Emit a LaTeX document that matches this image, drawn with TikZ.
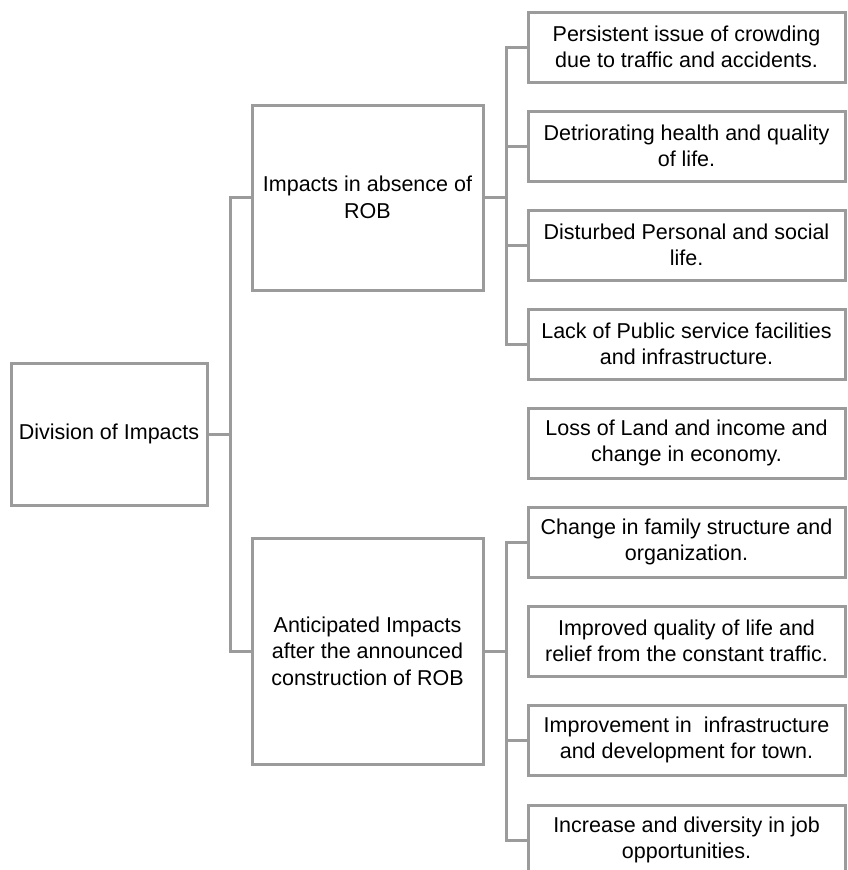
\documentclass[tikz,border=0pt]{standalone}
\usepackage{fontspec}
\setmainfont{Liberation Sans}
\definecolor{line_grey}{RGB}{155,155,155}
\definecolor{black}{RGB}{0,0,0}

\begin{document}
\begin{tikzpicture}[x=1pt,y=-1pt,
	box/.style={rectangle,draw=line_grey,line width=3pt,inner sep=0pt,align=center,text=black,font=\fontsize{21.5}{26.5}\selectfont},
	leftbox/.style={box,minimum width=196pt,minimum height=142pt},
	midbox/.style={box,minimum width=231pt},
	rightbox/.style={box,minimum width=317pt,minimum height=70pt},
	link/.style={line_grey,line width=3pt}]
	\useasboundingbox (0,0) rectangle (847,870);
	
	\node[leftbox] (div) at (109,434) {Division of Impacts};
	\node[midbox,minimum height=185pt] (absent) at (367.5,197.5) {Impacts in absence of\\ROB};
	\node[midbox,minimum height=226pt] (anticip) at (367.5,651) {Anticipated Impacts\\after the announced\\construction of ROB};
	
	\node[rightbox] (r1) at (686.5,47) {Persistent issue of crowding\\due to traffic and accidents.};
	\node[rightbox] (r2) at (686.5,146) {Detriorating health and quality\\of life.};
	\node[rightbox] (r3) at (686.5,245) {Disturbed Personal and social\\life.};
	\node[rightbox] (r4) at (686.5,344) {Lack of Public service facilities\\and infrastructure.};
	\node[rightbox] (r5) at (686.5,443) {Loss of Land and income and\\change in economy.};
	\node[rightbox] (r6) at (686.5,542) {Change in family structure and\\organization.};
	\node[rightbox] (r7) at (686.5,641) {Improved quality of life and\\relief from the constant traffic.};
	\node[rightbox] (r8) at (686.5,740) {Improvement in~ infrastructure\\and development for town.};
	\node[rightbox] (r9) at (686.5,840) {Increase and diversity in job\\opportunities.};
	
	\foreach \y in {absent,anticip}
		\draw[link] (div.east) -- ++(22,0) |- (\y.west);
	\foreach \y in {r1,r2,r3,r4}
		\draw[link] (absent.east) -- ++(22,0) |- (\y.west);
	\foreach \y in {r6,r8,r9}
		\draw[link] (anticip.east) -- ++(22,0) |- (\y.west);
\end{tikzpicture}
\end{document}
